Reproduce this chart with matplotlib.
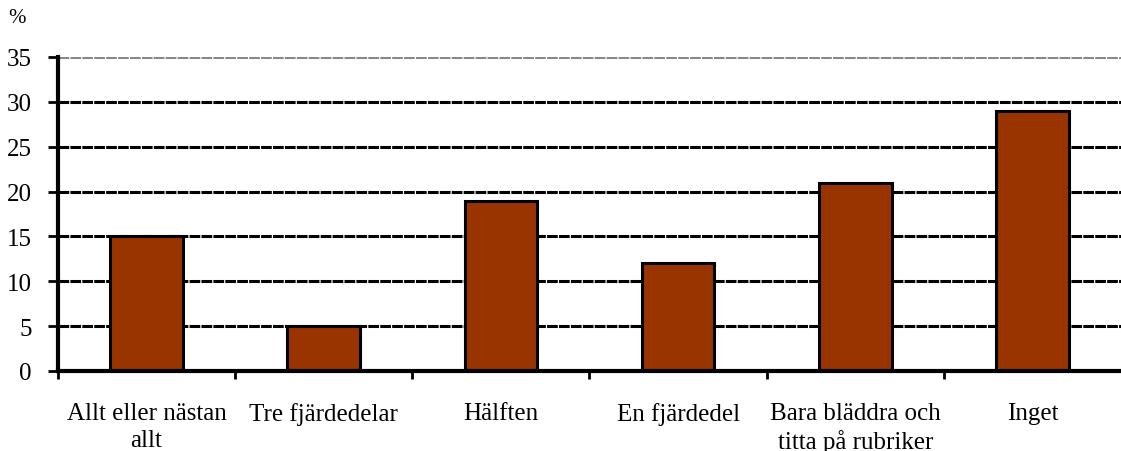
import matplotlib.pyplot as plt

plt.rcParams['font.family'] = ['Liberation Serif', 'DejaVu Serif']

categories = ["Allt eller nästan\nallt", "Tre fjärdedelar", "Hälften",
              "En fjärdedel", "Bara bläddra och\ntitta på rubriker", "Inget"]
values = [15, 5, 19, 12, 21, 29]
yticks = [0, 5, 10, 15, 20, 25, 30, 35]

fig = plt.figure(figsize=(11.21, 4.52), dpi=100)
ax = fig.add_axes([0.0517, 0.177, 0.9483, 0.6947])

x = list(range(len(categories)))
for yv in yticks[1:]:
    col = '#888888' if yv == 35 else 'black'
    ax.axhline(yv, color=col, linewidth=2.2, linestyle=(0, (3.5, 0.4)), zorder=1)

ax.bar(x, values, width=0.41, color='#993300', edgecolor='black', linewidth=2.2, zorder=3)

ax.set_xlim(-0.5, len(categories) - 0.5)
ax.set_ylim(0, 35)
ax.set_yticks(yticks)
ax.set_yticklabels([str(v) for v in yticks], fontsize=18)

ax.set_xticks([i + 0.5 for i in range(len(categories) - 1)] + [-0.5])
ax.set_xticklabels([])
ax.set_xticks(x, minor=True)
ax.set_xticklabels(categories, minor=True, fontsize=18, linespacing=1.3)
ax.tick_params(axis='x', which='minor', length=0, pad=22)
ax.tick_params(axis='x', which='major', direction='out', length=6, width=2)
ax.tick_params(axis='y', direction='out', length=7, width=2, pad=12)

for s in ['top', 'right']:
    ax.spines[s].set_visible(False)
ax.spines['left'].set_linewidth(3)
ax.spines['bottom'].set_linewidth(3)
ax.spines['bottom'].set_zorder(4)

fig.text(0.007, 0.96, '%', fontsize=15, va='center')

plt.savefig('out.png', dpi=100)
